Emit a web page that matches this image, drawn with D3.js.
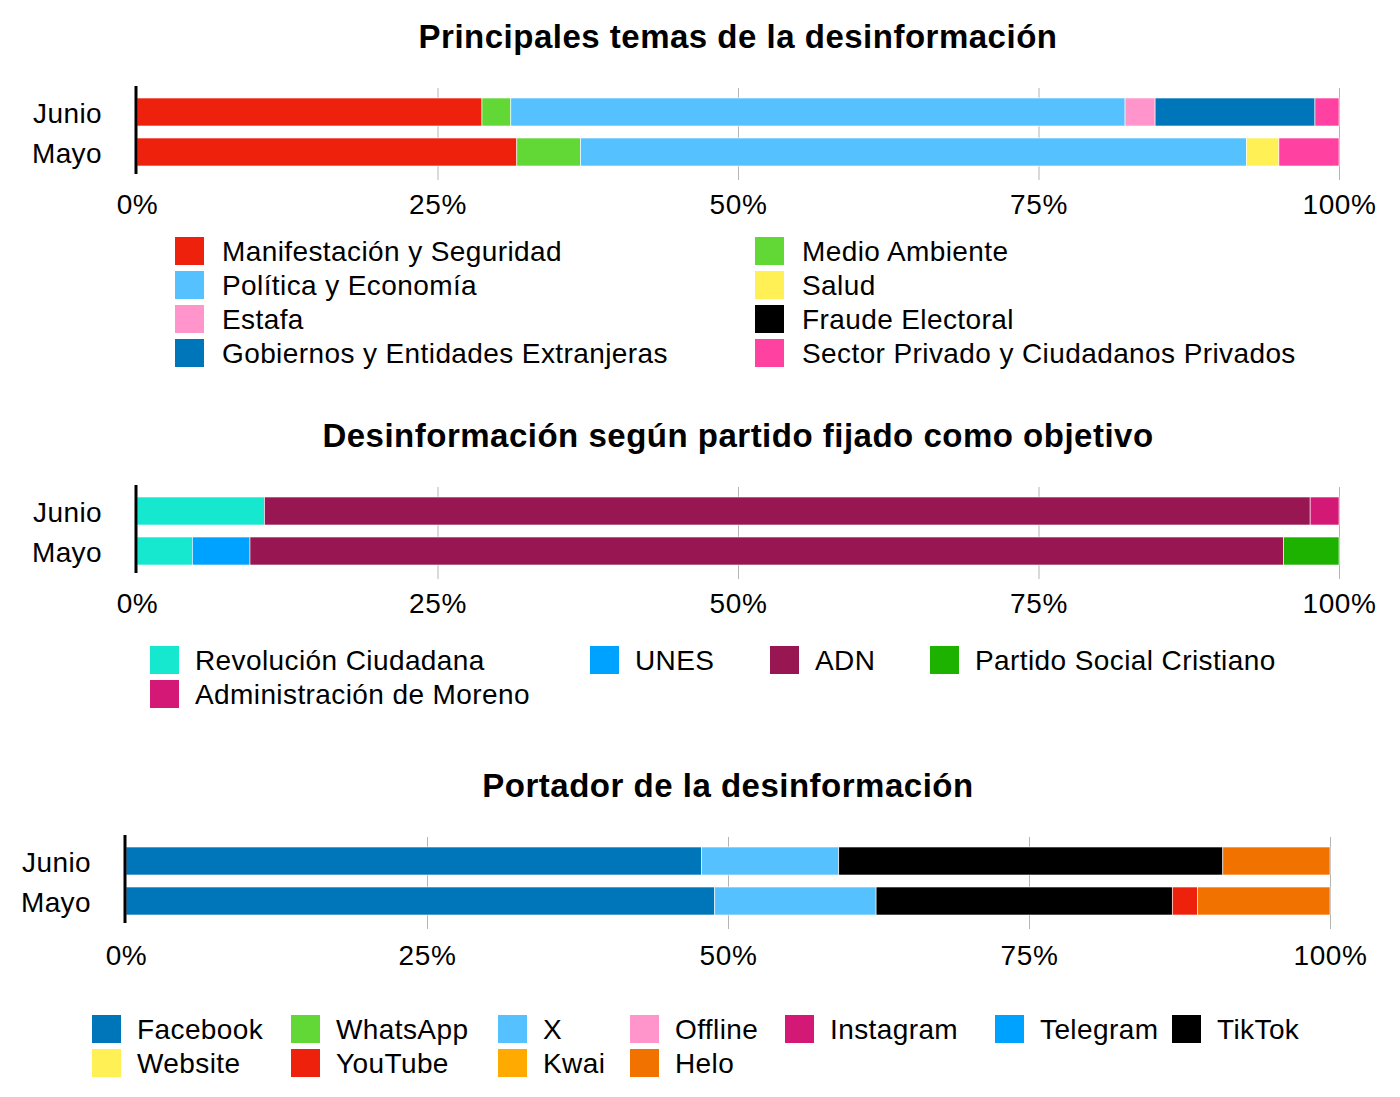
<!DOCTYPE html>
<meta charset="utf-8">
<style>
body {
    margin: 0;
    background: #fff;
}
svg {
    display: block;
    font-family: "Liberation Sans", Arial, sans-serif;
}
.grid path {
    display: none;
}
.grid line {
    stroke: #b5b5b5;
    stroke-width: 1;
}
.grid text {
    font-size: 28px;
    letter-spacing: 0.6px;
    fill: #000;
}
.title {
    font-size: 33px;
    font-weight: bold;
    letter-spacing: 0.5px;
}
.label, .legend text {
    font-size: 28px;
    letter-spacing: 0.4px;
}
</style>

<body>
    <div id="chart-container"></div>
    <script src="https://cdnjs.cloudflare.com/ajax/libs/d3/7.8.5/d3.min.js"></script>
    <script>
    // rows of every chart
    var months = ["Junio", "Mayo"];
    var ticks = [0, 0.25, 0.5, 0.75, 1];

    // chart 1: topics (percent of each month)
    var topics = ["Manifestación y Seguridad", "Medio Ambiente", "Política y Economía", "Salud",
        "Estafa", "Fraude Electoral", "Gobiernos y Entidades Extranjeras", "Sector Privado y Ciudadanos Privados"];
    var topicColors = ["#ee220c", "#61d836", "#56c1ff", "#fff056", "#ff95ca", "#000000", "#0076ba", "#ff42a1"];
    var topicsJunio = [28.7, 2.4, 51.1, 0, 2.5, 0, 13.3, 2.0];
    var topicsMayo = [31.6, 5.3, 55.4, 2.7, 0, 0, 0, 5.0];

    // chart 2: party targeted
    var parties = ["Revolución Ciudadana", "UNES", "ADN", "Partido Social Cristiano", "Administración de Moreno"];
    var partyColors = ["#16e7cf", "#00a2ff", "#981651", "#1db100", "#d31876"];
    var partiesJunio = [10.6, 0, 87.0, 0, 2.4];
    var partiesMayo = [4.6, 4.8, 86.0, 4.6, 0];

    // chart 3: carrier
    var carriers = ["Facebook", "WhatsApp", "X", "Offline", "Instagram", "Telegram", "TikTok",
        "Website", "YouTube", "Kwai", "Helo"];
    var carrierColors = ["#0076ba", "#61d836", "#56c1ff", "#ff95ca", "#d31876", "#00a2ff", "#000000",
        "#fff056", "#ee220c", "#ffaa00", "#f27200"];
    var carriersJunio = [47.8, 0, 11.4, 0, 0, 0, 31.9, 0, 0, 0, 8.9];
    var carriersMayo = [48.9, 0, 13.4, 0, 0, 0, 24.6, 0, 2.1, 0, 11.0];

    var svg = d3.select("#chart-container").append("svg")
        .attr("width", 1400)
        .attr("height", 1097);

    function drawChart(c) {
        var g = svg.append("g");
        var x = d3.scaleLinear().domain([0, 1]).range([c.x0, c.x1]);
        var y = d3.scaleBand().domain(months).range([c.top, c.top + 68]).paddingInner(0.3);

        g.append("text")
            .attr("class", "title")
            .attr("x", (c.x0 + c.x1) / 2)
            .attr("y", c.top - 62)
            .attr("text-anchor", "middle")
            .attr("dy", "0.35em")
            .text(c.title);

        // gridlines + tick labels
        var axis = d3.axisBottom(x)
            .tickValues(ticks)
            .tickFormat(d3.format(".0%"))
            .tickSize(92);
        var gx = g.append("g")
            .attr("class", "grid")
            .attr("transform", "translate(0," + (c.top - 10) + ")")
            .call(axis);
        gx.selectAll(".tick text").attr("dy", "0.35em").attr("y", c.tickY);
        gx.selectAll(".tick").filter(function(d) { return d === 0; }).select("line").remove();

        // stacked bars
        var rows = months.map(function(m, i) {
            var vals = c.values[i], acc = 0, total = d3.sum(vals);
            return vals.map(function(v, k) {
                var s = { month: m, k: k, x0: acc / total, x1: (acc + v) / total };
                acc += v;
                return s;
            }).filter(function(s) { return s.x1 > s.x0; });
        });
        g.selectAll(".row").data(rows).join("g")
            .selectAll("rect").data(function(d) { return d; }).join("rect")
            .attr("x", function(d) { return x(d.x0); })
            .attr("y", function(d) { return y(d.month); })
            .attr("width", function(d) { return x(d.x1) - x(d.x0); })
            .attr("height", y.bandwidth())
            .attr("fill", function(d) { return c.colors[d.k]; })
            .attr("stroke", "#fff")
            .attr("stroke-width", 0.6);

        // zero axis line
        g.append("line")
            .attr("x1", c.x0 - 1).attr("x2", c.x0 - 1)
            .attr("y1", c.top - 12).attr("y2", c.top + 76)
            .attr("stroke", "#000")
            .attr("stroke-width", 3);

        g.selectAll(".label").data(months).join("text")
            .attr("class", "label")
            .attr("x", c.x0 - 35)
            .attr("y", function(d) { return y(d) + y.bandwidth() / 2 + 1; })
            .attr("text-anchor", "end")
            .attr("dy", "0.35em")
            .text(function(d) { return d; });

        // legend laid out on a grid
        var lg = g.append("g").attr("class", "legend");
        var items = lg.selectAll("g").data(c.names).join("g")
            .attr("transform", function(d, i) {
                var col = i % c.cols.length, row = Math.floor(i / c.cols.length);
                return "translate(" + c.cols[col] + "," + (c.legendY + row * 34) + ")";
            });
        items.append("rect")
            .attr("x", 0).attr("y", -14)
            .attr("width", 29).attr("height", 28)
            .attr("fill", function(d, i) { return c.colors[i]; });
        items.append("text")
            .attr("x", c.textGap)
            .attr("dy", "0.35em")
            .text(function(d) { return d; });
    }

    drawChart({
        title: "Principales temas de la desinformación",
        names: topics, colors: topicColors, values: [topicsJunio, topicsMayo],
        x0: 137, x1: 1339, top: 98, tickY: 116,
        legendY: 251, cols: [175, 755], textGap: 47
    });
    drawChart({
        title: "Desinformación según partido fijado como objetivo",
        names: parties, colors: partyColors, values: [partiesJunio, partiesMayo],
        x0: 137, x1: 1339, top: 497, tickY: 116,
        legendY: 660, cols: [150, 590, 770, 930], textGap: 45
    });
    drawChart({
        title: "Portador de la desinformación",
        names: carriers, colors: carrierColors, values: [carriersJunio, carriersMayo],
        x0: 126, x1: 1330, top: 847, tickY: 118,
        legendY: 1029, cols: [92, 291, 498, 630, 785, 995, 1172], textGap: 45
    });
    </script>
</body>

</html>
